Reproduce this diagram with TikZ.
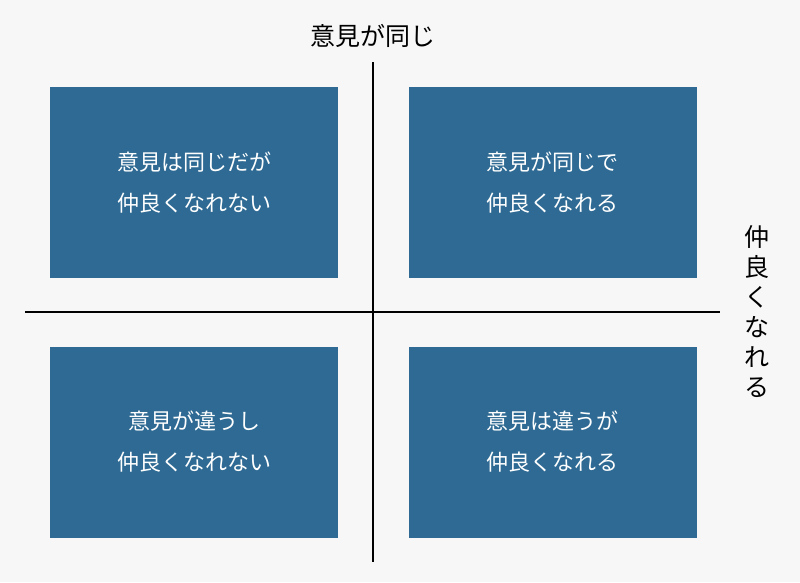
\documentclass[tikz,border=0pt]{standalone}
\usepackage{fontspec}
\newfontfamily\cjk{Noto Sans CJK JP}
\definecolor{boxc}{HTML}{2E6A93}
\definecolor{bgc}{HTML}{F7F7F7}
\begin{document}
\begin{tikzpicture}[x=1pt,y=-1pt,
  quad/.style={fill=boxc,draw=none,minimum width=288pt,minimum height=191pt,text=white,font=\cjk\fontsize{22}{41}\selectfont,align=center},
  axis/.style={line width=2.5pt,black},
  lab/.style={font=\cjk\fontsize{25}{31}\selectfont,text=black,align=center}]
\fill[bgc] (0,0) rectangle (800,582);
\useasboundingbox (0,0) rectangle (800,582);
\node[quad] (tl) at (194,182.5) {意見は同じだが\\仲良くなれない};
\node[quad] (tr) at (552.5,182.5) {意見が同じで\\仲良くなれる};
\node[quad] (bl) at (194,442) {意見が違うし\\仲良くなれない};
\node[quad] (br) at (552.5,442) {意見は違うが\\仲良くなれる};
\coordinate (vt) at (373,62);
\coordinate (vb) at (373,562);
\coordinate (hl) at (25,312);
\coordinate (hr) at (720,312);
\draw[axis] (vt) -- (vb);
\draw[axis] (hl) -- (hr);
\node[lab] (top) at (373,36) {意見が同じ};
\node[lab,font=\cjk\fontsize{25}{30}\selectfont] (right) at (757,312) {仲\\良\\く\\な\\れ\\る};
\end{tikzpicture}
\end{document}
